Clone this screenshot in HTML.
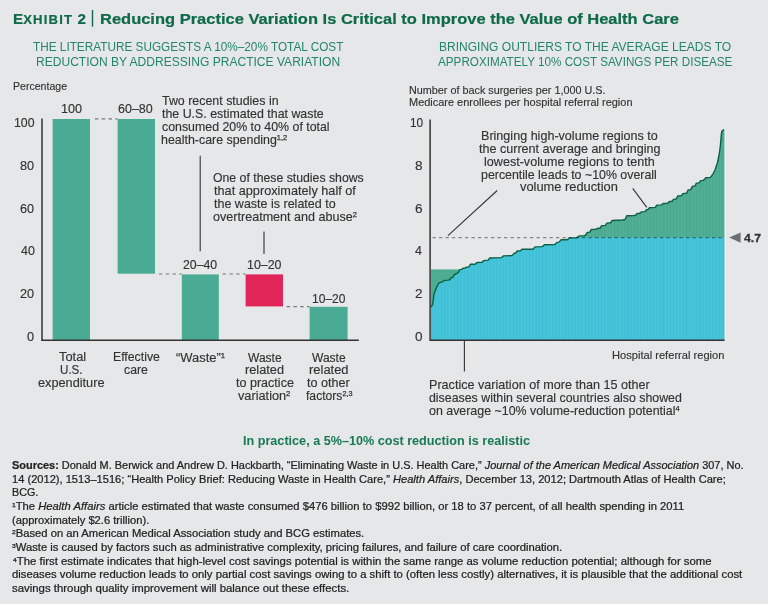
<!DOCTYPE html><html lang="en"><head><meta charset="utf-8"><title>Exhibit 2</title><style>

html,body{margin:0;padding:0;}
body{width:768px;height:604px;background:#e6e7e8;position:relative;overflow:hidden;font-family:"Liberation Sans",sans-serif;}
.t{position:absolute;white-space:nowrap;transform-origin:0 0;line-height:1;margin:0;padding:0;}
#tl{position:absolute;left:0;top:0;width:768px;height:604px;will-change:transform;}
.b{font-weight:bold;}
.tg{color:#0f6a4b;-webkit-text-stroke:0.2px #0f6a4b;}
.tg2{color:#187a54;}
.sg{color:#23856a;}
.tx{color:#333;-webkit-text-stroke:0.15px #333;}
.v47{-webkit-text-stroke:0.3px #333;}
.ft{color:#222;-webkit-text-stroke:0.22px #222;}
.sc{font-size:0.86em;letter-spacing:0.09em;}
.sp{font-size:0.6em;position:relative;top:-0.52em;letter-spacing:0;-webkit-text-stroke:0.25px;}
.r{position:absolute;}
svg{position:absolute;left:0;top:0;}

</style></head><body>
<svg width="768" height="604" viewBox="0 0 768 604"><defs><clipPath id="cu"><path d="M431.0,340.0 L431.0,307.0 L430.8,307.0 L432.6,304.5 L434.0,294.3 L435.9,289.0 L438.6,283.2 L441.2,282.1 L442.4,281.9 L443.9,280.5 L447.9,280.1 L449.7,279.8 L451.2,277.7 L453.0,277.3 L454.5,274.4 L455.6,274.2 L457.1,273.1 L458.3,272.7 L459.8,269.6 L461.6,269.4 L463.1,268.2 L464.9,268.1 L466.4,267.2 L468.9,266.9 L470.4,264.3 L473.7,264.2 L475.5,264.0 L477.0,262.5 L480.3,262.4 L482.1,262.2 L483.6,260.6 L488.2,260.1 L489.7,258.0 L501.7,257.6 L503.3,255.9 L512.1,255.6 L514.2,253.3 L515.8,253.0 L517.3,251.0 L520.5,250.7 L522.0,249.2 L533.0,249.2 L535.0,246.9 L542.3,246.6 L544.4,244.8 L554.8,244.5 L556.9,242.4 L559.0,242.1 L561.1,239.8 L567.3,239.7 L569.4,237.9 L576.7,237.7 L578.8,236.1 L584.0,235.6 L585.6,235.2 L587.1,232.5 L589.8,232.1 L591.3,229.4 L596.0,229.3 L597.5,228.3 L600.2,228.0 L601.7,225.7 L605.4,225.4 L606.9,223.1 L610.6,222.8 L612.1,220.5 L622.5,220.0 L625.2,219.5 L626.7,215.8 L632.9,215.6 L635.6,215.3 L637.1,213.5 L639.7,213.3 L641.2,211.9 L644.9,211.6 L646.4,209.8 L648.0,209.5 L649.5,207.7 L655.3,207.4 L656.8,205.1 L661.6,204.9 L663.1,203.5 L667.8,203.3 L669.3,201.5 L672.0,201.2 L673.5,199.4 L676.2,199.0 L677.7,196.0 L681.4,195.7 L682.9,193.6 L686.6,193.2 L688.1,190.0 L690.8,189.6 L692.3,186.4 L694.9,186.0 L696.4,183.2 L699.1,182.9 L700.6,180.6 L703.1,180.4 L704.6,179.3 L705.8,177.7 L710.4,177.4 L712.7,174.5 L715.1,169.8 L717.4,162.9 L719.1,154.8 L720.3,146.7 L721.1,137.4 L721.7,131.6 L723.8,129.5 L724.5,129.5 L724.5,340.0 Z"/></clipPath><clipPath id="lo"><rect x="431.0" y="237.6" width="293.5" height="102.4"/></clipPath><pattern id="st" width="3.27" height="10" patternUnits="userSpaceOnUse" x="431"><rect x="0" width="1.1" height="10" fill="#003" opacity="0.028"/><rect x="1.6" width="1.1" height="10" fill="#fff" opacity="0.03"/></pattern></defs><path d="M431.0,340.0 L431.0,307.0 L430.8,307.0 L432.6,304.5 L434.0,294.3 L435.9,289.0 L438.6,283.2 L441.2,282.1 L442.4,281.9 L443.9,280.5 L447.9,280.1 L449.7,279.8 L451.2,277.7 L453.0,277.3 L454.5,274.4 L455.6,274.2 L457.1,273.1 L458.3,272.7 L459.8,269.6 L461.6,269.4 L463.1,268.2 L464.9,268.1 L466.4,267.2 L468.9,266.9 L470.4,264.3 L473.7,264.2 L475.5,264.0 L477.0,262.5 L480.3,262.4 L482.1,262.2 L483.6,260.6 L488.2,260.1 L489.7,258.0 L501.7,257.6 L503.3,255.9 L512.1,255.6 L514.2,253.3 L515.8,253.0 L517.3,251.0 L520.5,250.7 L522.0,249.2 L533.0,249.2 L535.0,246.9 L542.3,246.6 L544.4,244.8 L554.8,244.5 L556.9,242.4 L559.0,242.1 L561.1,239.8 L567.3,239.7 L569.4,237.9 L576.7,237.7 L578.8,236.1 L584.0,235.6 L585.6,235.2 L587.1,232.5 L589.8,232.1 L591.3,229.4 L596.0,229.3 L597.5,228.3 L600.2,228.0 L601.7,225.7 L605.4,225.4 L606.9,223.1 L610.6,222.8 L612.1,220.5 L622.5,220.0 L625.2,219.5 L626.7,215.8 L632.9,215.6 L635.6,215.3 L637.1,213.5 L639.7,213.3 L641.2,211.9 L644.9,211.6 L646.4,209.8 L648.0,209.5 L649.5,207.7 L655.3,207.4 L656.8,205.1 L661.6,204.9 L663.1,203.5 L667.8,203.3 L669.3,201.5 L672.0,201.2 L673.5,199.4 L676.2,199.0 L677.7,196.0 L681.4,195.7 L682.9,193.6 L686.6,193.2 L688.1,190.0 L690.8,189.6 L692.3,186.4 L694.9,186.0 L696.4,183.2 L699.1,182.9 L700.6,180.6 L703.1,180.4 L704.6,179.3 L705.8,177.7 L710.4,177.4 L712.7,174.5 L715.1,169.8 L717.4,162.9 L719.1,154.8 L720.3,146.7 L721.1,137.4 L721.7,131.6 L723.8,129.5 L724.5,129.5 L724.5,340.0 Z" fill="#4dad93"/><rect x="431.0" y="269.4" width="29.2" height="60.0" fill="#4dad93"/><g clip-path="url(#lo)"><path d="M431.0,340.0 L431.0,307.0 L430.8,307.0 L432.6,304.5 L434.0,294.3 L435.9,289.0 L438.6,283.2 L441.2,282.1 L442.4,281.9 L443.9,280.5 L447.9,280.1 L449.7,279.8 L451.2,277.7 L453.0,277.3 L454.5,274.4 L455.6,274.2 L457.1,273.1 L458.3,272.7 L459.8,269.6 L461.6,269.4 L463.1,268.2 L464.9,268.1 L466.4,267.2 L468.9,266.9 L470.4,264.3 L473.7,264.2 L475.5,264.0 L477.0,262.5 L480.3,262.4 L482.1,262.2 L483.6,260.6 L488.2,260.1 L489.7,258.0 L501.7,257.6 L503.3,255.9 L512.1,255.6 L514.2,253.3 L515.8,253.0 L517.3,251.0 L520.5,250.7 L522.0,249.2 L533.0,249.2 L535.0,246.9 L542.3,246.6 L544.4,244.8 L554.8,244.5 L556.9,242.4 L559.0,242.1 L561.1,239.8 L567.3,239.7 L569.4,237.9 L576.7,237.7 L578.8,236.1 L584.0,235.6 L585.6,235.2 L587.1,232.5 L589.8,232.1 L591.3,229.4 L596.0,229.3 L597.5,228.3 L600.2,228.0 L601.7,225.7 L605.4,225.4 L606.9,223.1 L610.6,222.8 L612.1,220.5 L622.5,220.0 L625.2,219.5 L626.7,215.8 L632.9,215.6 L635.6,215.3 L637.1,213.5 L639.7,213.3 L641.2,211.9 L644.9,211.6 L646.4,209.8 L648.0,209.5 L649.5,207.7 L655.3,207.4 L656.8,205.1 L661.6,204.9 L663.1,203.5 L667.8,203.3 L669.3,201.5 L672.0,201.2 L673.5,199.4 L676.2,199.0 L677.7,196.0 L681.4,195.7 L682.9,193.6 L686.6,193.2 L688.1,190.0 L690.8,189.6 L692.3,186.4 L694.9,186.0 L696.4,183.2 L699.1,182.9 L700.6,180.6 L703.1,180.4 L704.6,179.3 L705.8,177.7 L710.4,177.4 L712.7,174.5 L715.1,169.8 L717.4,162.9 L719.1,154.8 L720.3,146.7 L721.1,137.4 L721.7,131.6 L723.8,129.5 L724.5,129.5 L724.5,340.0 Z" fill="#42c3d9"/></g><g clip-path="url(#cu)"><rect x="431.0" y="120" width="293.5" height="220" fill="url(#st)"/></g><path d="M430.8,307.0 L432.6,304.5 L434.0,294.3 L435.9,289.0 L438.6,283.2 L441.2,282.1 L442.4,281.9 L443.9,280.5 L447.9,280.1 L449.7,279.8 L451.2,277.7 L453.0,277.3 L454.5,274.4 L455.6,274.2 L457.1,273.1 L458.3,272.7 L459.8,269.6 L461.6,269.4 L463.1,268.2 L464.9,268.1 L466.4,267.2 L468.9,266.9 L470.4,264.3 L473.7,264.2 L475.5,264.0 L477.0,262.5 L480.3,262.4 L482.1,262.2 L483.6,260.6 L488.2,260.1 L489.7,258.0 L501.7,257.6 L503.3,255.9 L512.1,255.6 L514.2,253.3 L515.8,253.0 L517.3,251.0 L520.5,250.7 L522.0,249.2 L533.0,249.2 L535.0,246.9 L542.3,246.6 L544.4,244.8 L554.8,244.5 L556.9,242.4 L559.0,242.1 L561.1,239.8 L567.3,239.7 L569.4,237.9 L576.7,237.7 L578.8,236.1 L584.0,235.6 L585.6,235.2 L587.1,232.5 L589.8,232.1 L591.3,229.4 L596.0,229.3 L597.5,228.3 L600.2,228.0 L601.7,225.7 L605.4,225.4 L606.9,223.1 L610.6,222.8 L612.1,220.5 L622.5,220.0 L625.2,219.5 L626.7,215.8 L632.9,215.6 L635.6,215.3 L637.1,213.5 L639.7,213.3 L641.2,211.9 L644.9,211.6 L646.4,209.8 L648.0,209.5 L649.5,207.7 L655.3,207.4 L656.8,205.1 L661.6,204.9 L663.1,203.5 L667.8,203.3 L669.3,201.5 L672.0,201.2 L673.5,199.4 L676.2,199.0 L677.7,196.0 L681.4,195.7 L682.9,193.6 L686.6,193.2 L688.1,190.0 L690.8,189.6 L692.3,186.4 L694.9,186.0 L696.4,183.2 L699.1,182.9 L700.6,180.6 L703.1,180.4 L704.6,179.3 L705.8,177.7 L710.4,177.4 L712.7,174.5 L715.1,169.8 L717.4,162.9 L719.1,154.8 L720.3,146.7 L721.1,137.4 L721.7,131.6 L723.8,129.5" fill="none" stroke="#0c6045" stroke-width="1.4" stroke-linejoin="round"/><line x1="432.5" y1="237.6" x2="724.5" y2="237.6" stroke="#101518" stroke-opacity="0.45" stroke-width="1.4" stroke-dasharray="3.3,3.2"/><path d="M729.2,237.4 L740.6,232.4 L740.6,242.8 Z" fill="#6b6e73"/><line x1="725.3" y1="130" x2="725.3" y2="340" stroke="#f1f4f5" stroke-width="1"/><line x1="430.1" y1="119.4" x2="430.1" y2="340.8" stroke="#333333" stroke-width="1.5"/><line x1="429.7" y1="340.2" x2="724.6" y2="340.2" stroke="#333333" stroke-width="1.4"/><line x1="497.2" y1="190.5" x2="448" y2="235.6" stroke="#333333" stroke-width="1.1"/><line x1="632.7" y1="188.3" x2="646.8" y2="207.3" stroke="#333333" stroke-width="1.1"/><line x1="464.4" y1="340" x2="464.4" y2="371.5" stroke="#333333" stroke-width="1.1"/><rect x="52.6" y="119.0" width="37.4" height="221.0" fill="#4aab94"/><rect x="117.6" y="119.0" width="37.4" height="154.7" fill="#4aab94"/><rect x="181.8" y="274.4" width="37.0" height="65.6" fill="#4aab94"/><rect x="245.6" y="274.4" width="37.4" height="32.0" fill="#e22558"/><rect x="309.6" y="306.8" width="38.0" height="33.2" fill="#4aab94"/><line x1="94.9" y1="118.9" x2="117.5" y2="118.9" stroke="#77787a" stroke-width="1.1" stroke-dasharray="3.5,3.3"/><line x1="158.9" y1="274.0" x2="181.8" y2="274.0" stroke="#77787a" stroke-width="1.1" stroke-dasharray="3.5,3.3"/><line x1="222.6" y1="274.0" x2="245.6" y2="274.0" stroke="#77787a" stroke-width="1.1" stroke-dasharray="3.5,3.3"/><line x1="286.6" y1="306.6" x2="309.6" y2="306.6" stroke="#77787a" stroke-width="1.1" stroke-dasharray="3.5,3.3"/><line x1="42.0" y1="118.6" x2="42.0" y2="340.8" stroke="#333333" stroke-width="1.5"/><line x1="41.4" y1="340.2" x2="358.8" y2="340.2" stroke="#333333" stroke-width="1.4"/><line x1="200.2" y1="155.7" x2="200.2" y2="251.3" stroke="#333333" stroke-width="1.1"/><line x1="264.0" y1="231.6" x2="264.0" y2="253.9" stroke="#333333" stroke-width="1.1"/><line x1="92.5" y1="10" x2="92.5" y2="26.7" stroke="#0f6a4b" stroke-width="1.4"/></svg>
<div id="tl">
<div class="t b tg" id="t1" style="left:13.00px;top:12.00px;font-size:14.8px;transform:scaleX(1.0296)">E<span class="sc">XHIBIT</span> 2</div>
<div class="t b tg" id="t2" style="left:100.00px;top:12.00px;font-size:14.8px;transform:scaleX(1.1139)">Reducing Practice Variation Is Critical to Improve the Value of Health Care</div>
<div class="t sg" id="ls1" style="left:33.00px;top:41.00px;font-size:12.0px;transform:scaleX(0.9819)">THE LITERATURE SUGGESTS A 10%–20% TOTAL COST</div>
<div class="t sg" id="ls2" style="left:36.00px;top:56.00px;font-size:12.0px;transform:scaleX(1.0048)">REDUCTION BY ADDRESSING PRACTICE VARIATION</div>
<div class="t sg" id="rs1" style="left:439.00px;top:41.00px;font-size:12.0px;transform:scaleX(1.0024)">BRINGING OUTLIERS TO THE AVERAGE LEADS TO</div>
<div class="t sg" id="rs2" style="left:438.00px;top:56.00px;font-size:12.0px;transform:scaleX(0.9738)">APPROXIMATELY 10% COST SAVINGS PER DISEASE</div>
<div class="t tx" id="pct" style="left:13.00px;top:82.00px;font-size:10.4px;transform:scaleX(1.0163)">Percentage</div>
<div class="t tx" id="b1" style="left:61.00px;top:103.00px;font-size:12.0px;transform:scaleX(1.0553)">100</div>
<div class="t tx" id="b2" style="left:118.00px;top:103.00px;font-size:12.0px;transform:scaleX(1.0415)">60–80</div>
<div class="t tx" id="b3" style="left:183.00px;top:259.00px;font-size:12.0px;transform:scaleX(1.0246)">20–40</div>
<div class="t tx" id="b4" style="left:247.00px;top:259.00px;font-size:12.0px;transform:scaleX(1.0326)">10–20</div>
<div class="t tx" id="b5" style="left:312.00px;top:293.00px;font-size:12.0px;transform:scaleX(1.0031)">10–20</div>
<div class="t tx" id="la100" style="left:14.00px;top:117.00px;font-size:12.0px;transform:scaleX(1.0263)">100</div>
<div class="t tx" id="la80" style="left:20.00px;top:160.00px;font-size:12.0px;transform:scaleX(1.0561)">80</div>
<div class="t tx" id="la60" style="left:20.00px;top:203.00px;font-size:12.0px;transform:scaleX(1.0561)">60</div>
<div class="t tx" id="la40" style="left:21.00px;top:245.00px;font-size:12.0px;transform:scaleX(1.0354)">40</div>
<div class="t tx" id="la20" style="left:20.00px;top:288.00px;font-size:12.0px;transform:scaleX(1.0561)">20</div>
<div class="t tx" id="la0" style="left:27.00px;top:331.00px;font-size:12.0px;transform:scaleX(1.0619)">0</div>
<div class="t tx" id="a11" style="left:162.00px;top:95.00px;font-size:12.4px;transform:scaleX(1.0017)">Two recent studies in</div>
<div class="t tx" id="a12" style="left:162.00px;top:108.00px;font-size:12.4px;transform:scaleX(0.9994)">the U.S. estimated that waste</div>
<div class="t tx" id="a13" style="left:162.00px;top:121.00px;font-size:12.4px;transform:scaleX(0.9973)">consumed 20% to 40% of total</div>
<div class="t tx" id="a14" style="left:161.00px;top:134.00px;font-size:12.4px;transform:scaleX(1.0012)">health-care spending<span class="sp">1,2</span></div>
<div class="t tx" id="a21" style="left:213.00px;top:172.00px;font-size:12.4px;transform:scaleX(0.9904)">One of these studies shows</div>
<div class="t tx" id="a22" style="left:214.00px;top:185.00px;font-size:12.4px;transform:scaleX(1.0249)">that approximately half of</div>
<div class="t tx" id="a23" style="left:214.00px;top:198.00px;font-size:12.4px;transform:scaleX(1.0092)">the waste is related to</div>
<div class="t tx" id="a24" style="left:213.00px;top:211.00px;font-size:12.4px;transform:scaleX(1.0149)">overtreatment and abuse<span class="sp">2</span></div>
<div class="t tx" id="c11" style="left:59.00px;top:351.00px;font-size:12.0px;transform:scaleX(1.0714)">Total</div>
<div class="t tx" id="c12" style="left:60.00px;top:364.00px;font-size:12.0px;transform:scaleX(0.9675)">U.S.</div>
<div class="t tx" id="c13" style="left:38.00px;top:377.00px;font-size:12.0px;transform:scaleX(1.0607)">expenditure</div>
<div class="t tx" id="c21" style="left:113.00px;top:351.00px;font-size:12.0px;transform:scaleX(1.0226)">Effective</div>
<div class="t tx" id="c22" style="left:124.00px;top:364.00px;font-size:12.0px;transform:scaleX(1.0222)">care</div>
<div class="t tx" id="c31" style="left:176.00px;top:352.00px;font-size:12.0px;transform:scaleX(1.0778)">“Waste”<span class="sp">1</span></div>
<div class="t tx" id="c41" style="left:248.00px;top:352.00px;font-size:12.0px;transform:scaleX(1.0000)">Waste</div>
<div class="t tx" id="c42" style="left:245.00px;top:364.00px;font-size:12.0px;transform:scaleX(1.0638)">related</div>
<div class="t tx" id="c43" style="left:236.00px;top:377.00px;font-size:12.0px;transform:scaleX(1.0455)">to practice</div>
<div class="t tx" id="c44" style="left:238.00px;top:390.00px;font-size:12.0px;transform:scaleX(1.0609)">variation<span class="sp">2</span></div>
<div class="t tx" id="c51" style="left:312.00px;top:352.00px;font-size:12.0px;transform:scaleX(1.0000)">Waste</div>
<div class="t tx" id="c52" style="left:309.00px;top:364.00px;font-size:12.0px;transform:scaleX(1.0780)">related</div>
<div class="t tx" id="c53" style="left:307.00px;top:377.00px;font-size:12.0px;transform:scaleX(1.0494)">to other</div>
<div class="t tx" id="c54" style="left:306.00px;top:390.00px;font-size:12.0px;transform:scaleX(1.0120)">factors<span class="sp">2,3</span></div>
<div class="t tx" id="rh1" style="left:409.00px;top:86.00px;font-size:10.4px;transform:scaleX(1.0403)">Number of back surgeries per 1,000 U.S.</div>
<div class="t tx" id="rh2" style="left:409.00px;top:98.00px;font-size:10.4px;transform:scaleX(1.0543)">Medicare enrollees per hospital referral region</div>
<div class="t tx" id="ra10" style="left:410.00px;top:117.00px;font-size:12.0px;transform:scaleX(0.9838)">10</div>
<div class="t tx" id="ra8" style="left:415.00px;top:160.00px;font-size:12.0px;transform:scaleX(1.1304)">8</div>
<div class="t tx" id="ra6" style="left:415.00px;top:203.00px;font-size:12.0px;transform:scaleX(1.1304)">6</div>
<div class="t tx" id="ra4" style="left:415.00px;top:245.00px;font-size:12.0px;transform:scaleX(1.0400)">4</div>
<div class="t tx" id="ra2" style="left:415.00px;top:288.00px;font-size:12.0px;transform:scaleX(1.1304)">2</div>
<div class="t tx" id="ra0" style="left:415.00px;top:331.00px;font-size:12.0px;transform:scaleX(1.1304)">0</div>
<div class="t tx" id="r1" style="left:481.00px;top:130.00px;font-size:12.4px;transform:scaleX(1.0148)">Bringing high-volume regions to</div>
<div class="t tx" id="r2" style="left:479.00px;top:143.00px;font-size:12.4px;transform:scaleX(1.0135)">the current average and bringing</div>
<div class="t tx" id="r3" style="left:484.00px;top:156.00px;font-size:12.4px;transform:scaleX(1.0156)">lowest-volume regions to tenth</div>
<div class="t tx" id="r4" style="left:481.00px;top:169.00px;font-size:12.4px;transform:scaleX(0.9991)">percentile leads to ~10% overall</div>
<div class="t tx" id="r5" style="left:520.00px;top:181.00px;font-size:12.4px;transform:scaleX(1.0369)">volume reduction</div>
<div class="t b tx v47" id="v47" style="left:744.00px;top:233.00px;font-size:11.8px;transform:scaleX(1.0438)">4.7</div>
<div class="t tx" id="hrr" style="left:612.00px;top:351.00px;font-size:10.4px;transform:scaleX(1.0694)">Hospital referral region</div>
<div class="t tx" id="p1" style="left:429.00px;top:379.00px;font-size:12.4px;transform:scaleX(1.0174)">Practice variation of more than 15 other</div>
<div class="t tx" id="p2" style="left:429.00px;top:392.00px;font-size:12.4px;transform:scaleX(0.9976)">diseases within several countries also showed</div>
<div class="t tx" id="p3" style="left:429.00px;top:405.00px;font-size:12.4px;transform:scaleX(1.0008)">on average ~10% volume-reduction potential<span class="sp">4</span></div>
<div class="t b tg2" id="concl" style="left:243.00px;top:435.00px;font-size:12.0px;transform:scaleX(1.0519)">In practice, a 5%–10% cost reduction is realistic</div>
<div class="t ft" id="f1" style="left:12.00px;top:461.00px;font-size:10.2px;transform:scaleX(1.0739)"><b>Sources:</b> Donald M. Berwick and Andrew D. Hackbarth, “Eliminating Waste in U.S. Health Care,” <i>Journal of the American Medical Association</i> 307, No.</div>
<div class="t ft" id="f2" style="left:12.00px;top:475.00px;font-size:10.2px;transform:scaleX(1.0898)">14 (2012), 1513–1516; “Health Policy Brief: Reducing Waste in Health Care,” <i>Health Affairs</i>, December 13, 2012; Dartmouth Atlas of Health Care;</div>
<div class="t ft" id="f3" style="left:12.00px;top:488.00px;font-size:10.2px;transform:scaleX(1.0581)">BCG.</div>
<div class="t ft" id="f4" style="left:12.00px;top:502.00px;font-size:10.2px;transform:scaleX(1.1031)"><span class="sp">1</span>The <i>Health Affairs</i> article estimated that waste consumed $476 billion to $992 billion, or 18 to 37 percent, of all health spending in 2011</div>
<div class="t ft" id="f5" style="left:12.00px;top:516.00px;font-size:10.2px;transform:scaleX(1.0970)">(approximately $2.6 trillion).</div>
<div class="t ft" id="f6" style="left:12.00px;top:529.00px;font-size:10.2px;transform:scaleX(1.1029)"><span class="sp">2</span>Based on an American Medical Association study and BCG estimates.</div>
<div class="t ft" id="f7" style="left:12.00px;top:543.00px;font-size:10.2px;transform:scaleX(1.1041)"><span class="sp">3</span>Waste is caused by factors such as administrative complexity, pricing failures, and failure of care coordination.</div>
<div class="t ft" id="f8" style="left:13.00px;top:557.00px;font-size:10.2px;transform:scaleX(1.1155)"><span class="sp">4</span>The first estimate indicates that high-level cost savings potential is within the same range as volume reduction potential; although for some</div>
<div class="t ft" id="f9" style="left:12.00px;top:570.00px;font-size:10.2px;transform:scaleX(1.1098)">diseases volume reduction leads to only partial cost savings owing to a shift to (often less costly) alternatives, it is plausible that the additional cost</div>
<div class="t ft" id="f10" style="left:12.00px;top:584.00px;font-size:10.2px;transform:scaleX(1.1181)">savings through quality improvement will balance out these effects.</div>
</div>
</body></html>
